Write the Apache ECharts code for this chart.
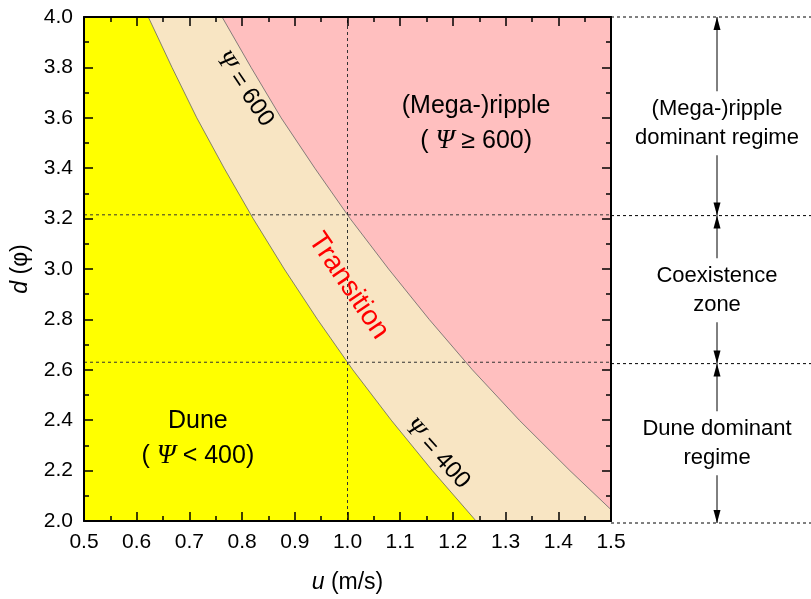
<!DOCTYPE html>
<html>
<head>
<meta charset="utf-8">
<script src="https://cdn.jsdelivr.net/npm/echarts@6/dist/echarts.min.js"></script>
<style>html,body{margin:0;padding:0;background:#fff}#main{width:811px;height:599px}</style>
</head>
<body>
<div id="main"></div>
<script>
// boundary curves, [u (m/s), d (phi)]
const psi400 = [[0.5, 4.0], [0.622, 4.0], [0.667, 3.8], [0.714, 3.6], [0.766, 3.4], [0.821, 3.2],
  [0.880, 3.0], [0.943, 2.8], [1.010, 2.6], [1.083, 2.4], [1.161, 2.2], [1.244, 2.0]];
const psi600 = [[0.5, 4.0], [0.762, 4.0], [0.817, 3.8], [0.874, 3.6], [0.938, 3.4], [1.005, 3.2],
  [1.078, 3.0], [1.155, 2.8], [1.237, 2.6], [1.326, 2.4], [1.422, 2.2], [1.5, 2.045]];
const uRef = 1.0;                          // vertical guide
const dLevels = [4.0, 3.215, 2.63, 2.0];   // regime limits at u = 1.0
const sideLabels = ['(Mega-)ripple\ndominant regime', 'Coexistence\nzone', 'Dune dominant\nregime'];
const sideLabelD = [3.58, 2.92, 2.315];

const FONT = '"Liberation Sans", Arial, sans-serif';
const psi = { fontFamily: '"Liberation Serif", "Times New Roman", serif', fontStyle: 'italic', color: '#000' };

const chart = echarts.init(document.getElementById('main'));

function frameAxis(extra) {
  return Object.assign({
    type: 'value', gridIndex: 0, z: 10,
    axisLine: { show: true, onZero: false, lineStyle: { color: '#000', width: 2 } },
    axisTick: { show: true, inside: true, length: 9, lineStyle: { color: '#000', width: 1.5 } },
    minorTick: { show: true, splitNumber: 2, length: 5, lineStyle: { color: '#000', width: 1.5 } },
    splitLine: { show: false },
    axisLabel: { fontSize: 21, color: '#000', fontFamily: FONT, margin: 11, formatter: v => v.toFixed(1) }
  }, extra);
}

const dash = { color: '#333', width: 1, type: [3, 3] };
const series = [];

// filled regions
series.push({ type: 'line', data: psi600, symbol: 'none', z: 2,
  lineStyle: { color: '#666', width: 0.8 }, areaStyle: { color: '#F8E5C3', opacity: 1, origin: 'start' } });
series.push({ type: 'line', data: psi400, symbol: 'none', z: 3,
  lineStyle: { color: '#666', width: 0.8 }, areaStyle: { color: '#FFFF00', opacity: 1, origin: 'start' } });

// guides inside the plot
series.push({ type: 'line', data: [[uRef, 2.0], [uRef, 4.0]], symbol: 'none', z: 4, lineStyle: dash });
[dLevels[1], dLevels[2]].forEach(d => {
  series.push({ type: 'line', data: [[0.5, d], [1.5, d]], symbol: 'none', z: 4, lineStyle: dash });
});

// guides and arrows on the right
dLevels.forEach(d => {
  series.push({ type: 'line', xAxisIndex: 2, yAxisIndex: 2, clip: false, data: [[0, d], [1, d]],
    symbol: 'none', lineStyle: { color: '#000', width: 1, type: [3, 3] } });
});
for (let i = 0; i < 3; i++) {
  series.push({ type: 'line', xAxisIndex: 2, yAxisIndex: 2, clip: false, z: 5,
    lineStyle: { color: '#000', width: 1 }, showSymbol: true,
    itemStyle: { color: '#000' },
    data: [
      { value: [0.53, dLevels[i]], symbol: 'triangle', symbolSize: [7, 13], symbolOffset: [0, '50%'] },
      { value: [0.53, dLevels[i + 1]], symbol: 'triangle', symbolSize: [7, 13], symbolRotate: 180, symbolOffset: [0, '-50%'] }
    ] });
}
series.push({ type: 'scatter', xAxisIndex: 2, yAxisIndex: 2, symbolSize: 0, z: 6,
  itemStyle: { opacity: 1 },
  data: sideLabels.map((t, i) => ({ value: [0.53, sideLabelD[i]], label: { formatter: t } })),
  label: { show: true, position: 'inside', fontSize: 22, lineHeight: 29, color: '#000', fontFamily: FONT,
    textBorderWidth: 0, backgroundColor: '#fff', padding: [3, 0] } });

// text inside the plot
series.push({ type: 'scatter', symbolSize: 0, z: 8, itemStyle: { opacity: 1 },
  label: { show: true, position: 'inside', color: '#000', textBorderWidth: 0, fontFamily: FONT, rich: { p: psi } },
  data: [
    { value: [1.244, 3.577], label: { formatter: '(Mega-)ripple\n( {p|Ψ} ≥ 600)', fontSize: 25, lineHeight: 35, rich: { p: Object.assign({ fontSize: 27 }, psi) } } },
    { value: [0.716, 2.328], label: { formatter: 'Dune\n( {p|Ψ} < 400)', fontSize: 25, lineHeight: 35, rich: { p: Object.assign({ fontSize: 27 }, psi) } } },
    { value: [1.002, 2.933], label: { formatter: 'Transition', fontSize: 28, color: '#FF0000', rotate: -56 } },
    { value: [0.805, 3.715], label: { formatter: '{p|Ψ} = 600', fontSize: 24, rotate: -56, rich: { p: Object.assign({ fontSize: 25 }, psi) } } },
    { value: [1.170, 2.267], label: { formatter: '{p|Ψ} = 400', fontSize: 24, rotate: -48, rich: { p: Object.assign({ fontSize: 25 }, psi) } } }
  ] });

chart.setOption({
  animation: false,
  grid: [
    { left: 84, right: 200, top: 17, bottom: 76, show: true, backgroundColor: '#FFBFBF', borderWidth: 0 },
    { left: 611, right: 0, top: 17, bottom: 76 }
  ],
  xAxis: [
    frameAxis({ min: 0.5, max: 1.5, interval: 0.1, position: 'bottom',
      name: '{i|u} (m/s)', nameLocation: 'middle', nameGap: 50,
      nameTextStyle: { fontSize: 23, color: '#000', fontFamily: FONT, rich: { i: { fontSize: 23, fontStyle: 'italic', fontFamily: FONT } } } }),
    frameAxis({ min: 0.5, max: 1.5, interval: 0.1, position: 'top', axisLabel: { show: false } }),
    { type: 'value', gridIndex: 1, min: 0, max: 1, show: false }
  ],
  yAxis: [
    frameAxis({ min: 2.0, max: 4.0, interval: 0.2, position: 'left',
      name: '{i|d} (φ)', nameLocation: 'middle', nameGap: 52,
      nameTextStyle: { fontSize: 23, color: '#000', fontFamily: FONT, rich: { i: { fontSize: 23, fontStyle: 'italic', fontFamily: FONT } } } }),
    frameAxis({ min: 2.0, max: 4.0, interval: 0.2, position: 'right', axisLabel: { show: false } }),
    { type: 'value', gridIndex: 1, min: 2.0, max: 4.0, show: false }
  ],
  series: series.map(s => Object.assign({ silent: true }, s))
});
</script>
</body>
</html>
